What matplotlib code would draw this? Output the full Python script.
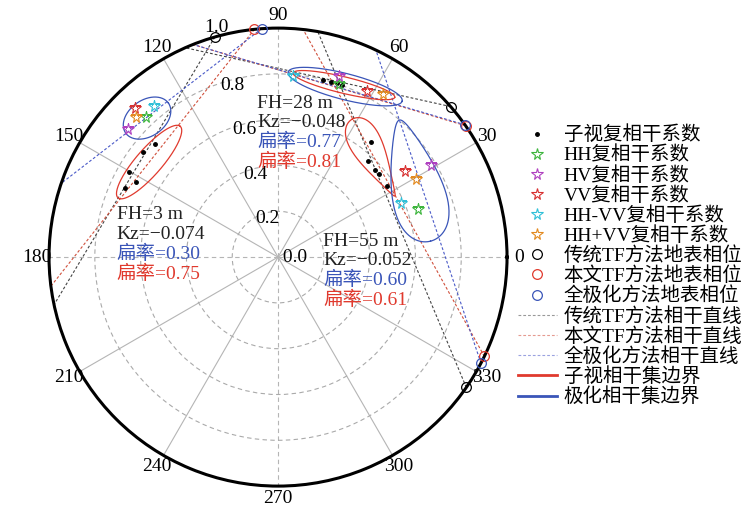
import numpy as np
import matplotlib.pyplot as plt
from matplotlib.lines import Line2D

plt.rcParams['font.family'] = ['Liberation Serif', 'Noto Sans CJK SC']
plt.rcParams['axes.unicode_minus'] = True

# apparent (sub-look) coherence points, theta in degrees
app_r = [[0.73, 0.747, 0.749, 0.70, 0.733],
         [0.797, 0.799, 0.802, 0.801],
         [0.646, 0.575, 0.569, 0.571, 0.568]]
app_theta = [[137.4, 142.1, 150.3, 152.2, 155.7],
             [75.7, 73.2, 71.3, 69.6],
             [51.0, 46.8, 41.9, 39.4, 33.1]]

# polarimetric coherences, one value per scene (FH=3 m, 28 m, 55 m)
hh_r = [0.84, 0.80, 0.646]
hh_theta = [133.3, 70.6, 18.9]
hv_r = [0.861, 0.834, 0.78]
hv_theta = [139.5, 71.4, 31.0]
vv_r = [0.90, 0.823, 0.67]
vv_theta = [133.8, 61.8, 34.1]
hhmvv_r = [0.853, 0.793, 0.587]
hhmvv_theta = [129.4, 85.3, 23.7]
hhpvv_r = [0.871, 0.847, 0.692]
hhpvv_theta = [135.4, 57.2, 29.5]

# ground phase on unit circle and far end of each coherence line
trad_phase = [106.0, 41.1, 325.3]
trad_end = [192.0, 113.9, 80.0]
ours_phase = [95.9, 35.0, 334.3]
ours_end = [187.3, 111.8, 83.7]
full_phase = [94.1, 35.3, 332.4]
full_end = [161.2, 111.8, 64.7]

# coherence region boundaries: cx, cy, semi-major, semi-minor, angle, taper
app_region = [(-0.563, 0.415, 0.207, 0.057, 49, 0.0),
              (0.288, 0.751, 0.228, 0.036, -13.5, 0.0),
              (0.417, 0.4345, 0.192, 0.059, 119, 0.7)]
pol_region = [(-0.572, 0.607, 0.114, 0.079, 35, 0.0),
              (0.293, 0.7445, 0.257, 0.057, -14.3, 0.0),
              (0.598, 0.334, 0.273, 0.107, -75.6, 0.5)]

fh_labels = ['FH=3 m', 'FH=28 m', 'FH=55 m']
kz_labels = ['Kz=\u22120.074', 'Kz=\u22120.048', 'Kz=\u22120.052']
pol_flat = ['0.30', '0.77', '0.60']
app_flat = ['0.75', '0.81', '0.61']

r_ticks = [0.0, 0.2, 0.4, 0.6, 0.8, 1.0]
theta_ticks = list(range(0, 360, 30))

C_RED = '#e03a2e'
C_BLUE = '#3a55b8'
C_GREY = '#444444'


def boundary(cx, cy, a, b, ang, k):
    t = np.linspace(0, 2 * np.pi, 240)
    u = a * np.cos(t)
    v = b * np.sin(t) * (1 + k * np.cos(t))
    c, s = np.cos(np.radians(ang)), np.sin(np.radians(ang))
    x = cx + u * c - v * s
    y = cy + u * s + v * c
    return np.arctan2(y, x), np.hypot(x, y)


fig = plt.figure(figsize=(7.45, 5.09), dpi=100)
ax = fig.add_axes([0.0658, 0.045, 0.6148, 0.8998], projection='polar')
ax.set_ylim(0, 1)

ax.set_thetagrids(theta_ticks, labels=[str(a) for a in theta_ticks],
                  fontsize=14)
ax.set_rgrids(r_ticks, labels=[''] * len(r_ticks))
ax.yaxis.grid(True, linestyle=(0, (4, 3)), color='#aaaaaa', linewidth=0.8)
for tick, a in zip(ax.xaxis.get_major_ticks(), theta_ticks):
    tick.gridline.set_color('#b5b5b5')
    tick.gridline.set_linewidth(0.8)
    tick.gridline.set_linestyle((0, (4, 3)) if a % 90 == 0 else '-')
ax.spines['polar'].set_linewidth(2.2)
ax.tick_params(axis='x', pad=-1.5)

# radial labels along ~105 degrees
for rv in r_ticks:
    if rv == 0:
        ax.text(0, 0, ' %.1f' % rv, fontsize=14, ha='left', va='center')
    else:
        rr = rv - 0.025 if rv < 1 else 1.04
        ax.text(np.radians(105), rr, '%.1f' % rv, fontsize=14,
                ha='center', va='center', clip_on=False)

dash = (0, (2.5, 1.8))
for i in range(3):
    # coherence lines (chords)
    for ph, en, col in [(trad_phase, trad_end, C_GREY),
                        (ours_phase, ours_end, '#d0503c'),
                        (full_phase, full_end, '#4a5ac8')]:
        ax.plot(np.radians([ph[i], en[i]]), [1, 1], linestyle=dash,
                color=col, linewidth=0.8, zorder=2)
    # region boundaries
    th, rr = boundary(*app_region[i])
    ax.plot(th, rr, color=C_RED, linewidth=0.9, zorder=3)
    th, rr = boundary(*pol_region[i])
    ax.plot(th, rr, color=C_BLUE, linewidth=0.9, zorder=3)
    # apparent coherences
    ax.plot(np.radians(app_theta[i]), app_r[i], 'o', color='black',
            markersize=2.5, linestyle='none', zorder=4)
    # ground phase
    ax.plot(np.radians(trad_phase[i]), 1, 'o', mfc='none', mec='black',
            markersize=7, mew=0.9, clip_on=False, zorder=5)
    ax.plot(np.radians(ours_phase[i]), 1, 'o', mfc='none', mec=C_RED,
            markersize=7, mew=0.9, clip_on=False, zorder=5)
    ax.plot(np.radians(full_phase[i]), 1, 'o', mfc='none', mec=C_BLUE,
            markersize=7, mew=0.9, clip_on=False, zorder=5)

star_sets = [(hh_r, hh_theta, '#3db53d'), (hv_r, hv_theta, '#b040c0'),
             (vv_r, vv_theta, '#d83030'), (hhmvv_r, hhmvv_theta, '#30c0d8'),
             (hhpvv_r, hhpvv_theta, '#e38a20')]
for rr, th, col in star_sets:
    ax.plot(np.radians(th), rr, '*', mfc='none', mec=col, markersize=8.5,
            mew=0.8, linestyle='none', zorder=5)

# annotations (axes fraction coordinates)
text_pos = [(0.148, 0.592), (0.454, 0.836), (0.598, 0.535)]
step = 0.042
for i, (x0, y0) in enumerate(text_pos):
    ax.text(x0, y0, fh_labels[i], transform=ax.transAxes, fontsize=14,
            va='center', color='#222222')
    ax.text(x0, y0 - step, kz_labels[i], transform=ax.transAxes,
            fontsize=14, va='center', color='#222222')
    ax.text(x0, y0 - 2 * step, '扁率=' + pol_flat[i], transform=ax.transAxes,
            fontsize=14, va='center', color=C_BLUE)
    ax.text(x0, y0 - 3 * step - 0.002, '扁率=' + app_flat[i],
            transform=ax.transAxes, fontsize=14, va='center', color=C_RED)

handles = [
    Line2D([], [], marker='o', color='black', linestyle='none', markersize=2.5),
]
for rr, th, col in star_sets:
    handles.append(Line2D([], [], marker='*', mfc='none', mec=col,
                          linestyle='none', markersize=8.5, mew=0.8))
for col in ['black', C_RED, C_BLUE]:
    handles.append(Line2D([], [], marker='o', mfc='none', mec=col,
                          linestyle='none', markersize=7, mew=0.9))
for col in ['#999999', '#e59a90', '#9aa2e0']:
    handles.append(Line2D([], [], color=col, linestyle=dash, linewidth=0.8))
handles.append(Line2D([], [], color=C_RED, linewidth=2))
handles.append(Line2D([], [], color=C_BLUE, linewidth=2))
labels = ['子视复相干系数', 'HH复相干系数', 'HV复相干系数', 'VV复相干系数',
          'HH-VV复相干系数', 'HH+VV复相干系数', '传统TF方法地表相位',
          '本文TF方法地表相位', '全极化方法地表相位', '传统TF方法相干直线',
          '本文TF方法相干直线', '全极化方法相干直线', '子视相干集边界',
          '极化相干集边界']
fig.legend(handles, labels, loc='upper left', bbox_to_anchor=(0.677, 0.78),
           frameon=False, fontsize=14, handlelength=2.0, handletextpad=0.35,
           labelspacing=0.07, borderpad=0.2)

fig.savefig('out.png', dpi=100)
